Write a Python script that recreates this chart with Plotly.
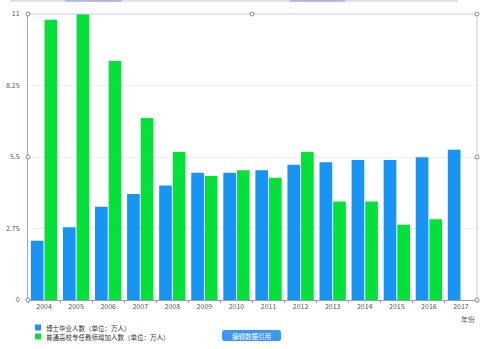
import plotly.graph_objects as go

# Years on the category axis
years = ["2004", "2005", "2006", "2007", "2008", "2009", "2010",
         "2011", "2012", "2013", "2014", "2015", "2016", "2017"]

# 博士毕业人数（万人）
phd_grads = [2.28, 2.80, 3.59, 4.08, 4.40, 4.89, 4.89,
             4.99, 5.20, 5.30, 5.38, 5.38, 5.49, 5.78]

# 普通高校专任教师增加人数（万人）
teacher_increase = [10.78, 11.0, 9.19, 7.00, 5.69, 4.77, 4.99,
                    4.70, 5.69, 3.79, 3.79, 2.89, 3.11, None]

y_ticks = [0, 2.75, 5.5, 8.25, 11]
y_tick_text = ["0", "2.75", "5.5", "8.25", "11"]

name_phd = "博士毕业人数（单位：万人）"
name_teacher = "普通高校专任教师增加人数（单位：万人）"

BLUE = "#1794f4"
GREEN = "#05e13a"
FONT = "Noto Sans CJK SC, Noto Sans, sans-serif"

W, H = 500, 349
L, R, T, B = 28, 23, 14, 49
PW, PH = W - L - R, H - T - B


def px(x):
    return (x - L) / PW


def py(y):
    return (H - B - y) / PH


fig = go.Figure()
fig.add_trace(go.Bar(x=years, y=phd_grads, name=name_phd, showlegend=False,
                     marker=dict(color=BLUE, line=dict(width=0))))
fig.add_trace(go.Bar(x=years, y=teacher_increase, name=name_teacher, showlegend=False,
                     marker=dict(color=GREEN, line=dict(width=0))))

shapes = []

# right and top frame of the plot area
shapes.append(dict(type="line", xref="paper", yref="paper", x0=0, x1=1, y0=1, y1=1,
                   line=dict(color="#c9c9e6", width=1)))
shapes.append(dict(type="line", xref="paper", yref="paper", x0=1, x1=1, y0=0, y1=1,
                   line=dict(color="#c9c9e6", width=1)))

# strip across the very top of the page
shapes.append(dict(type="line", xref="paper", yref="paper",
                   x0=px(10), x1=px(458), y0=py(0.8), y1=py(0.8),
                   line=dict(color="#dcdcdc", width=2)))
for a, b in [(65, 122), (290, 345)]:
    shapes.append(dict(type="line", xref="paper", yref="paper",
                       x0=px(a), x1=px(b), y0=py(0.8), y1=py(0.8),
                       line=dict(color="#b4b4dc", width=2)))

# small round handles on the frame
for hx, hy in [(28, 14), (252, 14), (477, 14), (28, 157), (477, 157), (28, 300), (477, 300)]:
    shapes.append(dict(type="circle", xref="paper", yref="paper",
                       xsizemode="pixel", ysizemode="pixel",
                       xanchor=px(hx), yanchor=py(hy),
                       x0=-2, x1=2, y0=-2, y1=2,
                       fillcolor="white", line=dict(color="#8a8a9a", width=1)))

annotations = []

# legend swatches and labels
for i, (name, color) in enumerate([(name_phd, BLUE), (name_teacher, GREEN)]):
    cy = 327.5 + 9 * i
    shapes.append(dict(type="rect", xref="paper", yref="paper",
                       x0=px(35), x1=px(41), y0=py(cy - 3), y1=py(cy + 3),
                       fillcolor=color, line=dict(width=0)))
    annotations.append(dict(text=name, xref="paper", yref="paper",
                            x=px(44), y=py(cy), showarrow=False,
                            xanchor="left", yanchor="middle",
                            font=dict(family=FONT, size=6.5, color="#333333")))

# rounded button below the chart
bx0, bx1, by0, by1, rr = 222, 281, 330, 341, 2.5
path = (f"M {px(bx0 + rr)},{py(by0)} L {px(bx1 - rr)},{py(by0)} "
        f"Q {px(bx1)},{py(by0)} {px(bx1)},{py(by0 + rr)} "
        f"L {px(bx1)},{py(by1 - rr)} Q {px(bx1)},{py(by1)} {px(bx1 - rr)},{py(by1)} "
        f"L {px(bx0 + rr)},{py(by1)} Q {px(bx0)},{py(by1)} {px(bx0)},{py(by1 - rr)} "
        f"L {px(bx0)},{py(by0 + rr)} Q {px(bx0)},{py(by0)} {px(bx0 + rr)},{py(by0)} Z")
shapes.append(dict(type="path", xref="paper", yref="paper", path=path,
                   fillcolor="#3c98ef", line=dict(width=0)))

annotations += [
    dict(text="编辑数据引用", xref="paper", yref="paper",
         x=px((bx0 + bx1) / 2), y=py((by0 + by1) / 2),
         showarrow=False, font=dict(family=FONT, size=6.5, color="white"),
         xanchor="center", yanchor="middle"),
    dict(text="年份", xref="paper", yref="paper", x=px(468), y=py(319),
         showarrow=False, font=dict(family=FONT, size=7, color="#555555"),
         xanchor="center", yanchor="middle"),
]

fig.update_layout(
    width=W, height=H,
    margin=dict(l=L, r=R, t=T, b=B, pad=0, autoexpand=False),
    paper_bgcolor="white", plot_bgcolor="white",
    barmode="group", bargap=0.15, bargroupgap=0.07,
    font=dict(family=FONT, size=7, color="#555555"),
    showlegend=False,
    shapes=shapes,
    annotations=annotations,
    xaxis=dict(type="category", showgrid=False, showline=True,
               linecolor="#9a9aa8", linewidth=1,
               ticks="outside", tickson="boundaries", ticklen=2,
               tickcolor="#9a9aa8", tickfont=dict(size=7, color="#555555")),
    yaxis=dict(range=[0, 11], tickvals=y_ticks, ticktext=y_tick_text,
               showgrid=True, gridcolor="#efefef", gridwidth=1,
               showline=True, linecolor="#a6a6cc", linewidth=1,
               zeroline=False, ticks="outside", ticklen=6, tickcolor="white",
               tickfont=dict(size=7, color="#555555")),
)

fig.write_html("out.html")
